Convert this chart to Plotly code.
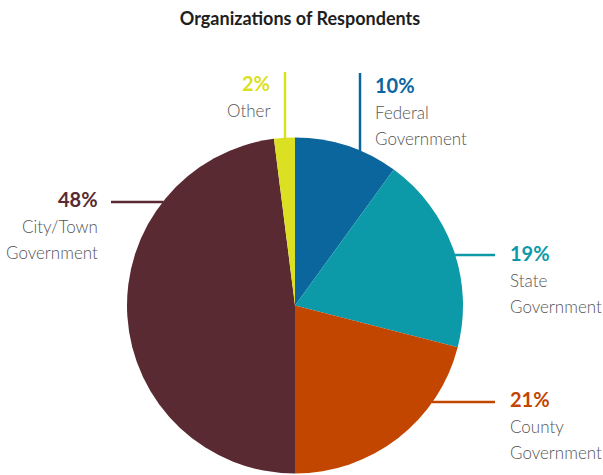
import math
import plotly.graph_objects as go

categories = ["Federal Government", "State Government", "County Government", "City/Town Government", "Other"]
label_lines = [["Federal", "Government"], ["State", "Government"], ["County", "Government"],
               ["City/Town", "Government"], ["Other"]]
values = [10, 19, 21, 48, 2]
colors = ["#0b669e", "#0c9aa8", "#c24500", "#592a31", "#dbe022"]

W, H = 603, 475
CX, CY, R = 295, 305.5, 168

fig = go.Figure(go.Pie(
    labels=categories, values=values, sort=False, direction="clockwise", rotation=0,
    marker=dict(colors=colors, line=dict(width=0)),
    textinfo="none", hoverinfo="label+percent", showlegend=False,
    domain=dict(x=[(CX - R) / W, (CX + R) / W], y=[1 - (CY + R) / H, 1 - (CY - R) / H]),
))

def px(x):
    return x / W

def py(y):
    return 1 - y / H

# leader line definitions: (orientation, fixed coord, outer coord)
leaders = [("v", 360, 73), ("h", 255, 495), ("h", 402, 495), ("h", 202, 111), ("v", 285, 72)]
# text anchor: (x, y of percent line, xanchor)
text_pos = [(373, 85, "left"), (508, 253, "left"), (508, 399, "left"), (100, 199, "right"), (272, 83, "right")]

shapes = []
annotations = []
for i, (o, fixed, outer) in enumerate(leaders):
    if o == "v":
        y_in = CY - math.sqrt(R * R - (fixed - CX) ** 2) + 1
        x0, y0, x1, y1 = fixed, outer, fixed, y_in
    else:
        dx = math.sqrt(R * R - (fixed - CY) ** 2) - 1
        x_in = CX + dx if outer > CX else CX - dx
        x0, y0, x1, y1 = outer, fixed, x_in, fixed
    shapes.append(dict(type="line", xref="paper", yref="paper", x0=px(x0), y0=py(y0), x1=px(x1), y1=py(y1),
                       line=dict(color=colors[i], width=2.5)))
    tx, ty, xa = text_pos[i]
    annotations.append(dict(xref="paper", yref="paper", x=px(tx), y=py(ty), xanchor=xa, yanchor="middle",
                            text=f"{values[i]}%", showarrow=False,
                            font=dict(family="Lato", size=20, color=colors[i], weight="bold")))
    for j, ln in enumerate(label_lines[i]):
        annotations.append(dict(xref="paper", yref="paper", x=px(tx), y=py(ty + 27 + 26.5 * j), xanchor=xa,
                                yanchor="middle", text=ln, showarrow=False,
                                font=dict(family="Lato", size=17, color="#555555", weight=300)))

fig.update_layout(
    width=W, height=H, margin=dict(l=0, r=0, t=0, b=0),
    paper_bgcolor="white", plot_bgcolor="white",
    title=dict(text="<b>Organizations of Respondents</b>", x=300 / W, xanchor="center", y=py(19), yanchor="middle",
               yref="container", font=dict(family="Lato", size=18, color="#1e1e1e")),
    shapes=shapes, annotations=annotations,
)

fig.write_html("out.html", config={"displayModeBar": False},
               post_script="document.body.style.margin='0';document.body.style.overflow='hidden';")
